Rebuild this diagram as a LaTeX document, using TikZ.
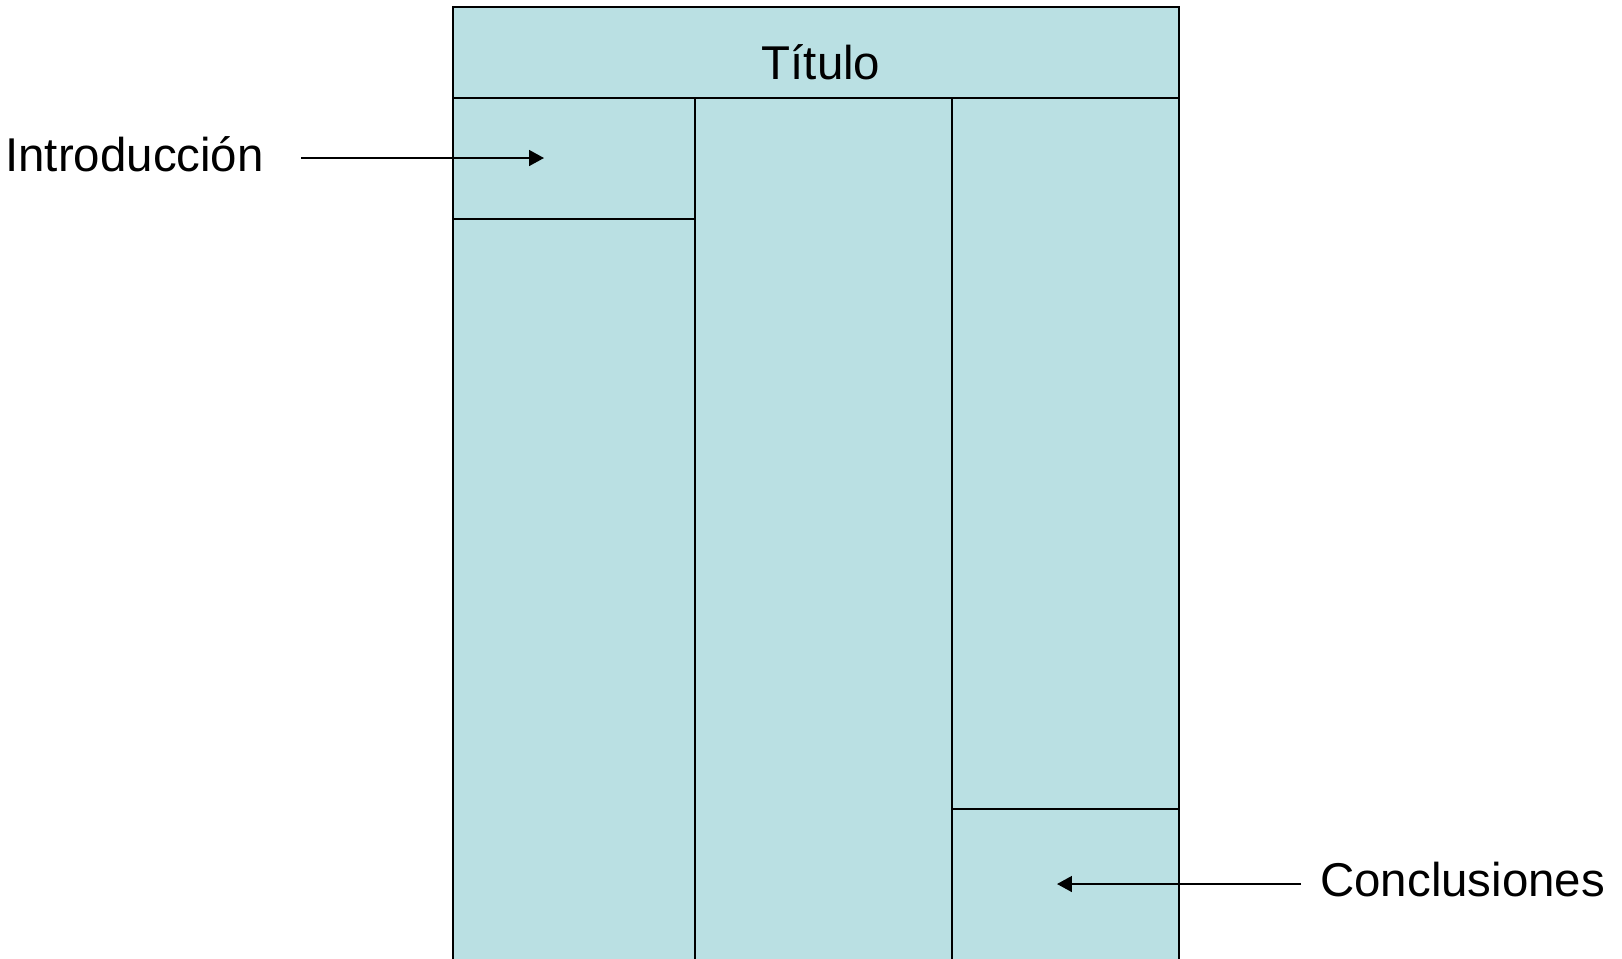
\documentclass[tikz,border=0pt]{standalone}
\usepackage{fontspec}
\setmainfont{Liberation Sans}
\usepackage{tikz}
\usetikzlibrary{arrows.meta}

\definecolor{posterblue}{RGB}{186,224,227}

\begin{document}
\begin{tikzpicture}[x=0.02cm,y=-0.02cm]
      \tikzstyle{every node}=[font=\fontsize{27}{32}\selectfont,inner sep=0pt]
      \tikzstyle{panel}=[draw=black,line width=1.1pt]
      \tikzstyle{pointer}=[line width=1.1pt,-{Triangle[length=8.5pt,width=9pt]}]
      \clip (0,0) rectangle (1622,958);

      % poster
      \fill[posterblue] (453,7) rectangle (1179,980);
      \draw[panel] (453,980) -- (453,7) -- (1179,7) -- (1179,980);
      \draw[panel] (453,98) -- (1179,98);
      \draw[panel] (695,98) -- (695,980);
      \draw[panel] (952,98) -- (952,980);
      \draw[panel] (453,219) -- (695,219);
      \draw[panel] (952,809) -- (1179,809);

      \node[anchor=base] (title) at (821,79) {Título};

      % labels
      \node[anchor=base west] (intro) at (5,171) {Introducción};
      \node[anchor=base west] (concl) at (1320,896) {Conclusiones};

      \coordinate (introstart) at (301,158);
      \coordinate (introtip) at (544,158);
      \coordinate (conclstart) at (1301,884);
      \coordinate (concltip) at (1057,884);

      \draw[pointer] (introstart) -- (introtip);
      \draw[pointer] (conclstart) -- (concltip);
    \end{tikzpicture}
\end{document}
